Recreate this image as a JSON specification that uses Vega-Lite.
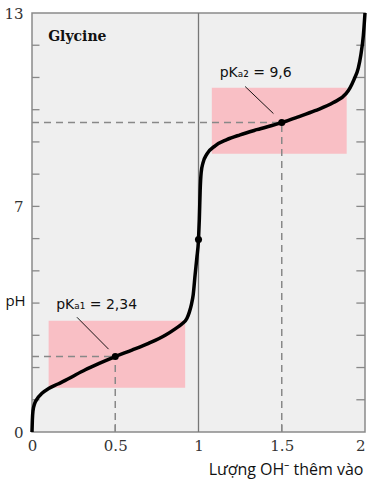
{
  "$schema": "https://vega.github.io/schema/vega-lite/v6.json",
  "width": 333,
  "height": 419,
  "autosize": "none",
  "padding": {"left": 32, "top": 13, "right": 3, "bottom": 48},
  "background": "white",
  "config": {"view": {"fill": "#efefef", "stroke": "#8a8a8a", "strokeWidth": 1.5}},
  "datasets": {
    "boxes": [
      {"x1": 0.1, "x2": 0.92, "y1": 1.37, "y2": 3.45},
      {"x1": 1.08, "x2": 1.89, "y1": 8.63, "y2": 10.68}
    ],
    "curve": [
      {"x": 0, "ph": 0},
      {"x": 0.002, "ph": 0.35},
      {"x": 0.006, "ph": 0.66},
      {"x": 0.015, "ph": 0.87},
      {"x": 0.03, "ph": 1.02},
      {"x": 0.06, "ph": 1.2},
      {"x": 0.1, "ph": 1.35},
      {"x": 0.156, "ph": 1.49},
      {"x": 0.2, "ph": 1.6},
      {"x": 0.25, "ph": 1.74},
      {"x": 0.32, "ph": 1.93},
      {"x": 0.4, "ph": 2.12},
      {"x": 0.5, "ph": 2.34},
      {"x": 0.6, "ph": 2.54},
      {"x": 0.7, "ph": 2.75},
      {"x": 0.8, "ph": 3.0},
      {"x": 0.86, "ph": 3.2},
      {"x": 0.9, "ph": 3.35},
      {"x": 0.93, "ph": 3.52},
      {"x": 0.945, "ph": 3.72},
      {"x": 0.958, "ph": 3.97},
      {"x": 0.968, "ph": 4.25},
      {"x": 0.98, "ph": 4.9},
      {"x": 0.99, "ph": 5.4},
      {"x": 1.0, "ph": 5.97},
      {"x": 1.005, "ph": 6.6},
      {"x": 1.01, "ph": 7.5},
      {"x": 1.016, "ph": 8.05},
      {"x": 1.027, "ph": 8.35},
      {"x": 1.05, "ph": 8.62},
      {"x": 1.1, "ph": 8.88},
      {"x": 1.17, "ph": 9.07},
      {"x": 1.25, "ph": 9.22},
      {"x": 1.35, "ph": 9.38},
      {"x": 1.5, "ph": 9.6},
      {"x": 1.6, "ph": 9.78},
      {"x": 1.7, "ph": 9.97},
      {"x": 1.81, "ph": 10.22},
      {"x": 1.886, "ph": 10.5},
      {"x": 1.91, "ph": 10.68},
      {"x": 1.935, "ph": 10.95},
      {"x": 1.96, "ph": 11.3},
      {"x": 1.975, "ph": 11.7},
      {"x": 1.99, "ph": 12.3},
      {"x": 2.0, "ph": 13.0}
    ],
    "dots": [
      {"x": 0.5, "ph": 2.34},
      {"x": 1.0, "ph": 5.97},
      {"x": 1.5, "ph": 9.6}
    ],
    "dashes": [
      {"x1": 0, "x2": 0.5, "y1": 2.34, "y2": 2.34},
      {"x1": 0.5, "x2": 0.5, "y1": 0, "y2": 2.34},
      {"x1": 0, "x2": 1.5, "y1": 9.6, "y2": 9.6},
      {"x1": 1.5, "x2": 1.5, "y1": 0, "y2": 9.6}
    ],
    "leaders": [
      {"x1": 0.27, "x2": 0.46, "y1": 3.56, "y2": 2.57},
      {"x1": 1.28, "x2": 1.45, "y1": 10.72, "y2": 9.88}
    ],
    "yticks": [
      {"ph": 1}, {"ph": 2}, {"ph": 3}, {"ph": 4}, {"ph": 5}, {"ph": 6},
      {"ph": 7}, {"ph": 8}, {"ph": 9}, {"ph": 10}, {"ph": 11}, {"ph": 12}
    ],
    "xticks": [{"x": 0.5}, {"x": 1.5}],
    "labels": [
      {"x": 0.145, "ph": 3.95, "label": "pKₐ₁ = 2,34"},
      {"x": 1.127, "ph": 11.15, "label": "pKₐ₂ = 9,6"}
    ],
    "title": [{"x": 0.097, "ph": 12.27, "label": "Glycine"}]
  },
  "layer": [
    {
      "data": {"name": "boxes"},
      "mark": {"type": "rect", "color": "#f9bfc5"},
      "encoding": {
        "x": {"field": "x1", "type": "quantitative",
          "scale": {"domain": [0, 2], "nice": false, "zero": false},
          "axis": {"values": [0, 0.5, 1, 1.5, 2], "format": "~g", "ticks": false, "domain": false, "grid": false,
            "labelFont": "DejaVu Serif", "labelFontSize": 15, "labelColor": "#333", "labelPadding": 6,
            "labelFlush": false, "labelOverlap": false,
            "labelAlign": {"condition": {"test": "datum.value == 2", "value": "right"}, "value": "center"},
            "labelBound": false,
            "title": "Lượng OH⁻ thêm vào", "titleFont": "Open Sans", "titleFontSize": 16, "titleFontWeight": "normal",
            "titleColor": "#111", "titleAnchor": "end", "titleAlign": "right", "titleX": 331, "titleY": 42, "titleBaseline": "alphabetic"}},
        "x2": {"field": "x2"},
        "y": {"field": "y1", "type": "quantitative",
          "scale": {"domain": [0, 13], "nice": false, "zero": false},
          "axis": {"values": [0, 7, 13], "ticks": false, "domain": false, "grid": false,
            "labelFont": "DejaVu Serif", "labelFontSize": 15, "labelColor": "#333", "labelPadding": 9,
            "labelFlush": false, "labelOverlap": false,
            "title": "pH", "titleAngle": 0, "titleX": -17, "titleY": 287, "titleAlign": "center", "titleBaseline": "middle",
            "titleFont": "Open Sans", "titleFontSize": 15, "titleFontWeight": "normal", "titleColor": "#111"}},
        "y2": {"field": "y2"}
      }
    },
    {
      "data": {"name": "dashes"},
      "mark": {"type": "rule", "color": "#888", "strokeWidth": 1.5, "strokeDash": [7, 5]},
      "encoding": {
        "x": {"field": "x1", "type": "quantitative"},
        "x2": {"field": "x2"},
        "y": {"field": "y1", "type": "quantitative"},
        "y2": {"field": "y2"}
      }
    },
    {
      "data": {"values": [{"x": 1}]},
      "mark": {"type": "rule", "color": "#777", "strokeWidth": 1.3},
      "encoding": {"x": {"field": "x", "type": "quantitative"}}
    },
    {
      "data": {"name": "yticks"},
      "mark": {"type": "rule", "color": "#888", "strokeWidth": 1.3},
      "encoding": {
        "x": {"datum": 0, "type": "quantitative"},
        "x2": {"datum": 0.045},
        "y": {"field": "ph", "type": "quantitative"}
      }
    },
    {
      "data": {"name": "yticks"},
      "mark": {"type": "rule", "color": "#888", "strokeWidth": 1.3},
      "encoding": {
        "x": {"datum": 1.948, "type": "quantitative"},
        "x2": {"datum": 2},
        "y": {"field": "ph", "type": "quantitative"}
      }
    },
    {
      "data": {"name": "xticks"},
      "mark": {"type": "rule", "color": "#888", "strokeWidth": 1.3},
      "encoding": {
        "x": {"field": "x", "type": "quantitative"},
        "y": {"datum": 0, "type": "quantitative"},
        "y2": {"datum": 0.25}
      }
    },
    {
      "data": {"name": "curve"},
      "mark": {"type": "line", "color": "black", "strokeWidth": 3.5, "interpolate": "monotone", "clip": false},
      "encoding": {
        "x": {"field": "x", "type": "quantitative"},
        "y": {"field": "ph", "type": "quantitative"},
        "order": {"field": "x"}
      }
    },
    {
      "data": {"name": "dots"},
      "mark": {"type": "circle", "color": "black", "opacity": 1, "size": 50},
      "encoding": {
        "x": {"field": "x", "type": "quantitative"},
        "y": {"field": "ph", "type": "quantitative"}
      }
    },
    {
      "data": {"name": "leaders"},
      "mark": {"type": "rule", "color": "black", "strokeWidth": 0.9},
      "encoding": {
        "x": {"field": "x1", "type": "quantitative"},
        "x2": {"field": "x2"},
        "y": {"field": "y1", "type": "quantitative"},
        "y2": {"field": "y2"}
      }
    },
    {
      "data": {"name": "labels"},
      "mark": {"type": "text", "align": "left", "baseline": "middle", "font": "DejaVu Sans", "fontSize": 14, "color": "#111"},
      "encoding": {
        "x": {"field": "x", "type": "quantitative"},
        "y": {"field": "ph", "type": "quantitative"},
        "text": {"field": "label"}
      }
    },
    {
      "data": {"name": "title"},
      "mark": {"type": "text", "align": "left", "baseline": "middle", "font": "DejaVu Serif", "fontSize": 14, "fontWeight": "bold", "color": "#111"},
      "encoding": {
        "x": {"field": "x", "type": "quantitative"},
        "y": {"field": "ph", "type": "quantitative"},
        "text": {"field": "label"}
      }
    }
  ]
}
